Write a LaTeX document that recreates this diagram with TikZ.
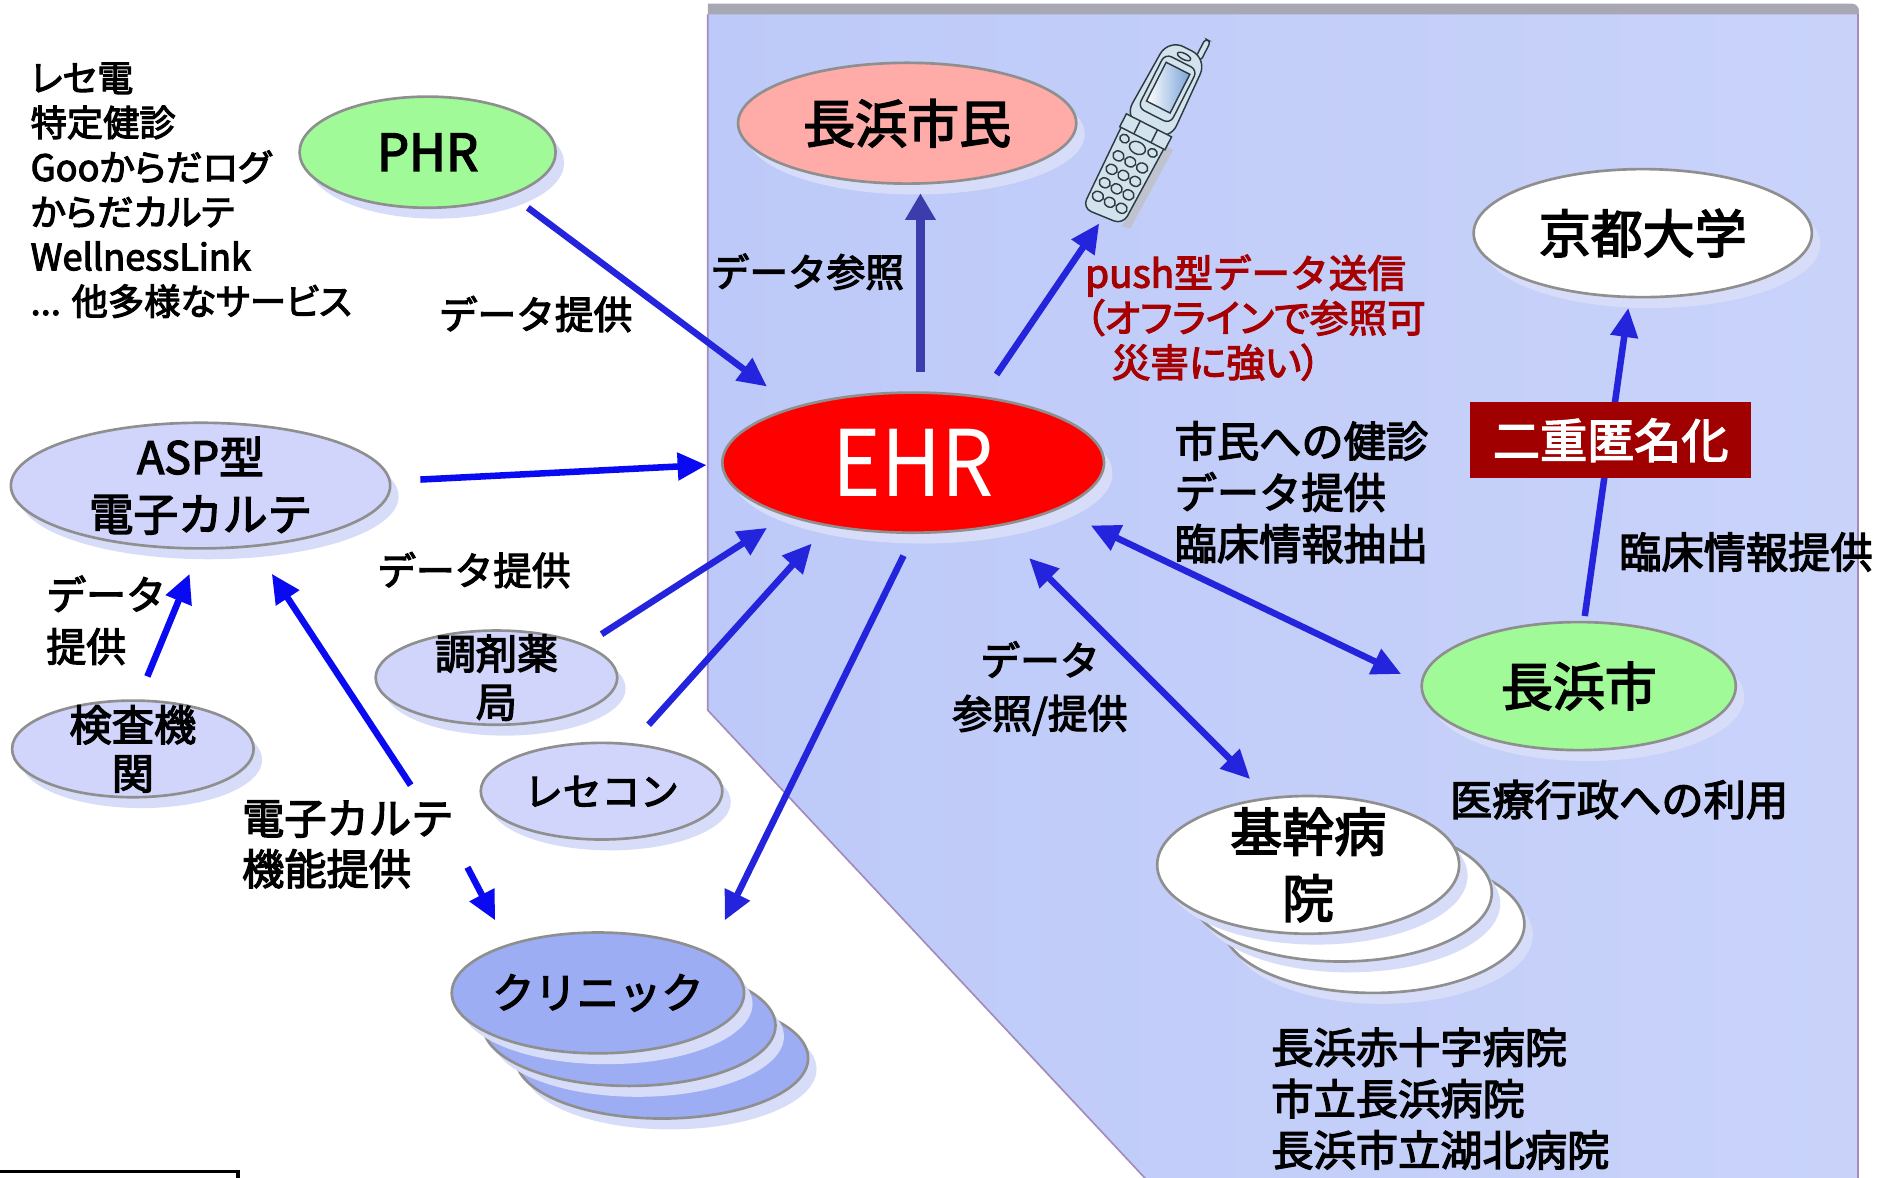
\documentclass[tikz,border=0pt]{standalone}
\usepackage{fontspec}
\setmainfont{Noto Sans CJK JP}[RawFeature={embolden=3}]
\newfontfamily\propfont{Noto Sans CJK JP}[RawFeature={+palt;embolden=3}]
\newfontfamily\plainfont{Noto Sans CJK JP}
\usetikzlibrary{arrows.meta,shapes.geometric,shadows}

\definecolor{panelL}{HTML}{BDC9F8}
\definecolor{panelR}{HTML}{C9D3FA}
\definecolor{panelEdge}{HTML}{A48CBA}
\definecolor{bandGray}{HTML}{A8A8B2}
\definecolor{shadowBlue}{HTML}{D7DDF8}
\definecolor{rimGray}{HTML}{8F8F8F}
\definecolor{mint}{HTML}{A0FA98}
\definecolor{salmon}{HTML}{FFABA8}
\definecolor{lavender}{HTML}{D1D5FC}
\definecolor{clinicBlue}{HTML}{9DADF4}
\definecolor{flowBlue}{HTML}{2424DC}
\definecolor{pureBlue}{HTML}{0A0AF2}
\definecolor{refBlue}{HTML}{3C3CAC}
\definecolor{maroon}{HTML}{A00000}
\definecolor{pushRed}{HTML}{A60000}
\definecolor{phoneBody}{HTML}{D3E3EE}
\definecolor{phoneLine}{HTML}{2E3A40}
\definecolor{screenBlue}{HTML}{7AA4D8}

\newcommand\fz[2]{\fontsize{#1pt}{#2pt}\selectfont}

\tikzset{
  sz/.style 2 args={minimum width=#1*0.5pt, minimum height=#2*0.5pt},
  bubble/.style={ellipse, draw=rimGray, line width=1.1pt, inner sep=0pt,
    general shadow={shadow xshift=3.5pt, shadow yshift=-4.5pt, fill=shadowBlue}},
  flow/.style={draw=flowBlue, line width=2.7pt, -{Triangle[length=12pt,width=11pt]}},
  flowboth/.style={draw=flowBlue, line width=2.7pt,
    {Triangle[length=12pt,width=11pt]}-{Triangle[length=12pt,width=11pt]}},
  lbl/.style={inner sep=0pt, align=left, anchor=west},
}

\begin{document}
\begin{tikzpicture}[x=0.5pt,y=-0.5pt]
\useasboundingbox (0,0) rectangle (1568,975);

% region of the city network
\fill[bandGray] (586,3) -- (1533,3) to[out=0,in=90] (1539,9) -- (1539,14) -- (586,14) -- cycle;
\shade[left color=panelL, right color=panelR]
  (586,12) -- (1538,12) -- (1538,980) -- (952,980) -- (586,588) -- cycle;
\draw[panelEdge, line width=0.7pt] (586,12) -- (586,588) -- (956,984);
\draw[panelEdge, line width=0.7pt] (1538,12) -- (1538,980);

% cut-off frame at the lower left
\draw[line width=1.3pt] (0,970) -- (197,970) -- (197,985);

% mobile phone
\begin{scope}[shift={(948,110)}, rotate=-27, phoneLine, line width=0.6pt]
  \fill[black!25, opacity=0.7] (20,2) -- (27,2) -- (25,76) -- (18,78) -- cycle;
  \draw[fill=phoneBody, rounded corners=4] (-20,-4) -- (20,-4) -- (18,76) -- (-18,79) -- cycle;
  \draw[fill=phoneBody, rounded corners=1.5] (9,-92) rectangle (14,-74);
  \draw[fill=phoneBody, rounded corners=7] (-18,-78) -- (18,-78) -- (21,-3) -- (-21,-3) -- cycle;
  \draw[rounded corners=3] (-15,-66) rectangle (15,-16);
  \shade[left color=white, right color=screenBlue] (-11,-60) rectangle (11,-24);
  \draw (-11,-60) rectangle (11,-24);
  \draw (0,-71) ellipse (6 and 2.5);
  \draw[fill=phoneBody] (-21,-7) rectangle (21,5);
  \draw (-8,-7) -- (-8,5) (8,-7) -- (8,5);
  \draw (0,14) ellipse (7 and 5);
  \draw (-13,12) ellipse (4 and 3.5) (13,12) ellipse (4 and 3.5);
  \foreach \r in {0,...,3}
    \foreach \c in {-11,0,11}
      \draw (\c,27+12.5*\r) ellipse (4.8 and 4);
\end{scope}

% EHR and the parties around it
\node[bubble, fill=mint, sz={212}{92},
  label={[font=\fz{21}{25}]center:PHR}] (phr) at (354,126) {};
\node[bubble, fill=salmon, sz={280}{100},
  label={[font=\fz{21.5}{26}]center:長浜市民}] (citizen) at (751,102) {};
\node[bubble, fill=white, sz={280}{106},
  label={[font=\fz{21.5}{26}]center:京都大学}] (kyoto) at (1360,193) {};
\node[bubble, fill=red, sz={316}{116},
  label={[font=\plainfont\fz{38}{42}, text=white, xscale=0.9]center:EHR}] (ehr) at (756,383) {};
\node[bubble, fill=lavender, sz={314}{104},
  label={[font=\fz{18.5}{23.5}, align=center]center:ASP型\\電子カルテ}] (asp) at (166,402) {};
\node[bubble, fill=mint, sz={260}{106},
  label={[font=\fz{21.5}{26}]center:長浜市}] (city) at (1307,568) {};
\node[bubble, fill=lavender, sz={200}{78},
  label={[font=\fz{17}{20}, align=center]center:調剤薬\\局}] (pharmacy) at (411,561) {};
\node[bubble, fill=lavender, sz={200}{80},
  label={[font=\fz{17.5}{20}, align=center]center:検査機\\関}] (lab) at (110,620) {};
\node[bubble, fill=lavender, sz={200}{80},
  label={[font=\fz{16}{20}]center:レセコン}] (rececon) at (498,655) {};

% core hospitals, drawn as a stack
\node[bubble, fill=white, sz={250}{114}] (hosp3) at (1137,765) {};
\node[bubble, fill=white, sz={250}{114}] (hosp2) at (1110,739) {};
\node[bubble, fill=white, sz={250}{114},
  label={[font=\fz{21.5}{27.5}, align=center]center:基幹病\\院}] (hospital) at (1083,716) {};

% clinics, drawn as a stack
\node[bubble, fill=clinicBlue, sz={242}{100}] (clinic3) at (548,876) {};
\node[bubble, fill=clinicBlue, sz={242}{100}] (clinic2) at (521,849) {};
\node[bubble, fill=clinicBlue, sz={242}{100},
  label={[font=\fz{17.5}{20}]center:クリニック}] (clinic) at (495,822) {};

% connector end points
\coordinate (phrOut) at (437,172);   \coordinate (ehrFromPhr) at (635,320);
\coordinate (ehrTop) at (762,308);   \coordinate (citizenFoot) at (762,160);
\coordinate (ehrToPhone) at (825,310); \coordinate (phoneFoot) at (910,185);
\coordinate (aspOut) at (348,397);   \coordinate (ehrFromAsp) at (585,385);
\coordinate (pharmOut) at (498,525); \coordinate (ehrFromPharm) at (635,437);
\coordinate (receOut) at (537,600);  \coordinate (ehrFromRece) at (672,450);
\coordinate (ehrLow) at (748,460);   \coordinate (clinicTop) at (600,762);
\coordinate (ehrRight) at (903,435); \coordinate (cityLeft) at (1160,558);
\coordinate (ehrLowR) at (852,462);  \coordinate (hospTop) at (1035,645);
\coordinate (cityTop) at (1312,510); \coordinate (kyotoFoot) at (1348,255);
\coordinate (labOut) at (122,560);   \coordinate (aspFromLab) at (157,475);
\coordinate (aspFoot) at (225,475);  \coordinate (gapTop) at (340,650);
\coordinate (gapLow) at (387,718);   \coordinate (clinicLeft) at (410,762);

% data flows
\draw[flow] (phrOut) -- (ehrFromPhr);
\draw[line width=3.6pt, refBlue, -{Triangle[length=11pt,width=12pt]}] (ehrTop) -- (citizenFoot);
\draw[flow] (ehrToPhone) -- (phoneFoot);
\draw[flow, draw=pureBlue] (aspOut) -- (ehrFromAsp);
\draw[flow] (pharmOut) -- (ehrFromPharm);
\draw[flow] (receOut) -- (ehrFromRece);
\draw[flow] (ehrLow) -- (clinicTop);
\draw[flowboth] (ehrRight) -- (cityLeft);
\draw[flowboth] (ehrLowR) -- (hospTop);
\draw[flow] (cityTop) -- (kyotoFoot);
\draw[flow, draw=pureBlue] (labOut) -- (aspFromLab);
\draw[flow, draw=pureBlue] (gapTop) -- (aspFoot);
\draw[flow, draw=pureBlue] (gapLow) -- (clinicLeft);

% double anonymisation
\node[fill=maroon, sz={233}{63}, inner sep=0pt, text=white,
  font=\fz{19.5}{22}] (anon) at (1333.5,364.5) {二重匿名化};

% texts
\node[lbl, font=\propfont\fz{15}{18.5}] (services) at (25,157.5)
  {レセ電\\特定健診\\Gooからだログ\\からだカルテ\\WellnessLink\\... 他多様なサービス};
\node[lbl, font=\fz{16}{19}] (provPhr) at (363,260) {データ提供};
\node[lbl, font=\fz{16}{19}] (refCitizen) at (588,225) {データ参照};
\node[lbl, font=\fz{16}{18.5}, text=pushRed] (pushLbl) at (898,263)
  {push型データ送信\\{\propfont（オフラインで参照可}\\{\propfont\hspace*{11pt}災害に強い）}};
\node[lbl, font=\fz{17.5}{21.25}] (examLbl) at (972,407.5)
  {市民への健診\\データ提供\\臨床情報抽出};
\node[lbl, font=\fz{17.5}{21}] (clinInfo) at (1340,457) {臨床情報提供};
\node[lbl, font=\fz{16}{19}] (provPharm) at (312,472) {データ提供};
\node[lbl, font=\fz{16.5}{21.5}] (provLab) at (38,513.5) {データ\\提供};
\node[inner sep=0pt, align=center, font=\fz{16.5}{22}] (refProv) at (861,570) {データ\\参照/提供};
\node[lbl, font=\fz{17.5}{21}] (emrLbl) at (200,699) {電子カルテ\\機能提供};
\node[lbl, font=\fz{17.5}{21}] (adminLbl) at (1200,662) {医療行政への利用};
\node[lbl, font=\fz{17.5}{21.25}] (hospList) at (1052,909.5)
  {長浜赤十字病院\\市立長浜病院\\長浜市立湖北病院};
\end{tikzpicture}
\end{document}
